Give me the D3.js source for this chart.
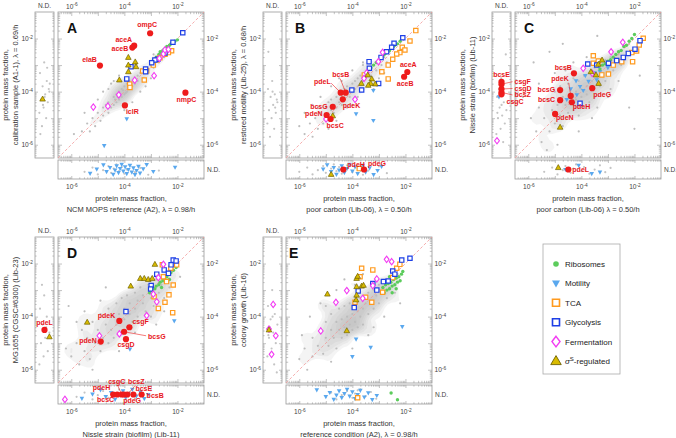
<!DOCTYPE html>
<html><head><meta charset="utf-8">
<script src="https://cdn.jsdelivr.net/npm/d3@7"></script>
<style>
body{margin:0;background:#fff}
text{font-family:"Liberation Sans",Arial,Helvetica,sans-serif}
</style></head>
<body><svg id="c" width="676" height="438"></svg>
<script>
// ===== DATA (log10 protein mass fraction; null = N.D.) =====
const tickLabelExps = [-6, -4, -2];
const legendLabels = ['Ribosomes','Motility','TCA','Glycolysis','Fermentation','σS-regulated'];

// ---- Panel A ----
const A_grey = [-5.6,-5.5,-5.4,-5.2,-5.3,-5.5,-5.2,-5.0,-5.1,-5.3,-5.0,-4.8,-4.9,-5.1,-4.8,-4.6,-4.8,-4.9,-4.7,-4.5,-4.6,-4.8,-4.6,-4.4,-4.5,-4.6,-4.4,-4.2,-4.4,-4.5,-4.3,-4.4,-4.3,-4.1,-4.2,-4.3,-4.2,-4.0,-4.1,-4.2,-4.1,-3.9,-4.0,-4.1,-4.0,-3.8,-3.9,-4.0,-3.9,-3.7,-3.8,-3.9,-3.8,-3.6,-3.7,-3.8,-3.6,-3.5,-3.6,-3.7,-3.5,-3.4,-3.5,-3.6,-3.4,-3.3,-3.3,-3.5,-3.3,-3.2,-3.2,-3.1,-3.1,-3.3,-3.0,-2.9,-2.9,-3.1,-2.8,-2.8,-2.7,-2.9,-2.6,-2.6,-2.5,-2.7,-2.4,-2.4,-2.3,-2.5,-4.8,-4.0,-4.5,-3.7,-4.2,-3.4,-3.7,-4.4,-3.4,-4.0,-5.0,-4.3,-4.0,-4.7,-3.2,-3.8,-4.6,-3.9,-3.6,-3.0,-5.5,-4.8,-3.0,-3.5,-4.4,-3.6,-3.9,-4.5,-2.9,-2.6,-5.9,-5.6,-4.05,-3.95,-3.95,-4.05,-4.15,-4.1,-3.85,-3.85,-4.25,-4.2,-3.75,-3.7,-4.35,-4.3,-3.65,-3.65];
const A_greyL = [-2.9,-3.3,-3.6,-3.8,-4.0,-4.1,-4.3,-4.4,-4.6,-4.8,-5.0,-5.3,-3.9,-4.2,-5.6,-3.1,-4.5,-3.7];
const A_greyB = [-5.5,-5.2,-5.0,-4.8,-4.6,-4.5,-4.4,-4.3,-4.2,-4.1,-4.0,-3.9,-3.8,-3.6,-3.4,-3.1,-2.7];
const A_ribo = [[-2.9,-2.8],[-2.8,-2.7],[-2.7,-2.6],[-2.65,-2.5],[-2.6,-2.55],[-2.55,-2.45],[-2.5,-2.4],[-2.45,-2.45],[-2.4,-2.3],[-2.35,-2.35],[-2.3,-2.25],[-2.25,-2.2],[-2.2,-2.15],[-2.1,-2.1],[-2.0,-2.05]];
const A_motility = [[-3.91,-5.03],[-4.76,-6.04],[-5.29,null],[-5.04,null],[-4.79,null],[-4.67,null],[-4.54,null],[-4.42,null],[-4.35,null],[-4.29,null],[-4.22,null],[-4.16,null],[-4.10,null],[-4.04,null],[-3.97,null],[-3.91,null],[-3.85,null],[-3.79,null],[-3.72,null],[-3.66,null],[-3.60,null],[-3.54,null],[-3.47,null],[-3.41,null],[-3.29,null],[-3.16,null],[-2.91,null],[-2.09,null]];
const A_tca = [[-2.22,-2.46],[-2.34,-2.53],[-2.47,-2.59],[-2.66,-2.72],[-2.78,-2.81],[-2.91,-3.00],[-3.16,-3.21],[-3.25,-3.56],[-3.80,-3.71],[-3.79,-3.84],[-3.31,-3.22]];
const A_glyc = [[-1.80,-1.78],[-2.17,-2.14],[-2.47,-2.54],[-2.74,-2.78],[-2.85,-2.81],[-2.97,-2.91],[-3.20,-3.15],[-3.20,-3.25],[-3.75,-3.06],[-3.91,-3.52]];
const A_ferm = [[-5.17,-4.58],[-4.62,-4.55],[-4.21,-4.12],[-3.61,-3.57],[-2.88,-3.40],[-2.68,-2.75],[-2.53,-2.58],[-2.47,-2.43],[-2.34,-2.41]];
const A_sigma = [[-3.85,-2.71],[-3.85,-3.00],[-3.59,-2.88],[-3.85,-3.25],[-4.19,-3.56],[-3.56,-3.06],[null,-4.28]];
const A_genes = [['ompC',-3.03,-1.80],['aceA',-3.63,-2.27],['aceB',-3.70,-2.34],['elaB',-4.92,-3.02],['iclR',-3.98,-4.52],['nmpC',-1.70,-4.04]];

// ---- Panel B ----
const B_grey = [-5.8,-5.6,-5.6,-5.2,-5.5,-5.7,-5.4,-5.0,-5.3,-5.4,-5.2,-4.8,-5.1,-5.2,-5.0,-4.6,-5.0,-5.0,-4.9,-4.4,-4.9,-4.9,-4.8,-4.7,-4.8,-4.3,-4.7,-4.8,-4.7,-4.5,-4.6,-4.2,-4.6,-4.6,-4.5,-4.4,-4.5,-4.0,-4.4,-4.5,-4.4,-4.2,-4.3,-3.9,-4.3,-4.3,-4.2,-4.1,-4.2,-3.8,-4.1,-4.2,-4.1,-3.9,-4.0,-3.7,-4.0,-4.0,-3.9,-3.9,-3.9,-3.6,-3.8,-3.8,-3.8,-3.5,-3.7,-3.7,-3.7,-3.4,-3.6,-3.6,-3.5,-3.3,-3.5,-3.5,-3.4,-3.2,-3.3,-3.4,-3.3,-3.1,-3.2,-3.0,-3.1,-3.2,-3.0,-2.8,-2.9,-3.0,-2.8,-2.7,-2.7,-2.9,-2.6,-2.5,-5.5,-4.5,-5.2,-4.2,-4.8,-3.8,-4.5,-3.5,-4.0,-3.2,-3.6,-2.9,-4.2,-4.6,-3.8,-4.2,-3.4,-3.8,-3.0,-3.5,-5.8,-4.8,-4.6,-5.1,-4.0,-4.5,-2.5,-2.8,-3.2,-3.9,-6.0,-5.3,-5.3,-4.6,-4.9,-5.4,-3.6,-3.0,-4.4,-3.6,-2.8,-3.3];
const B_greyL = [-3.6,-3.9,-4.1,-4.2,-4.4,-4.5,-4.7,-4.8,-5.0,-5.2,-5.4,-5.7,-4.3,-4.0,-2.5,-4.6];
const B_greyB = [-6.0,-5.7,-5.5,-5.3,-5.1,-5.0,-4.8,-4.7,-4.6,-4.5,-4.4,-4.3,-4.2,-4.0,-3.8,-3.6,-3.4,-3.0,-2.7];
const B_ribo = [[-3.3,-3.1],[-3.2,-3.0],[-3.1,-2.9],[-3.0,-2.85],[-2.95,-2.75],[-2.9,-2.7],[-2.8,-2.6],[-2.75,-2.55],[-2.7,-2.5],[-2.6,-2.45],[-2.5,-2.35],[-2.45,-2.3],[-2.4,-2.25],[-2.3,-2.2],[-2.2,-2.1]];
const B_motility = [[-3.21,-3.96],[-3.86,-4.84],[-3.21,-5.09],[-5.1,null],[-4.95,null],[-4.8,null],[-4.7,null],[-4.6,null],[-4.5,null],[-4.4,null],[-4.3,null],[-4.2,null],[-4.1,null],[-4.0,null],[-3.9,null],[-3.8,null],[-3.7,null],[-3.6,null],[-3.5,null],[-3.35,null],[-3.2,null],[-3.05,null],[-2.9,null]];
const B_tca = [[-1.61,-1.70],[-1.83,-2.09],[-2.12,-2.33],[-2.21,-2.53],[-2.33,-2.58],[-2.48,-2.78],[-2.65,-3.00],[-2.89,-3.25],[-2.65,-3.52],[-3.55,-3.37],[-2.02,-2.43],[-3.74,null]];
const B_glyc = [[-2.10,-1.97],[-2.43,-2.18],[-2.52,-2.33],[-2.71,-2.50],[-2.92,-2.71],[-3.37,-2.87],[-3.36,-3.12],[-3.01,-3.69],[-3.65,-3.94],[-4.02,-3.94]];
const B_ferm = [[-2.86,-2.52],[-3.02,-2.87],[-3.46,-3.29],[-3.56,-3.50],[-3.90,-4.29],[-4.99,-5.03]];
const B_sigma = [[-4.74,-4.91],[-3.42,-3.37],[-3.27,-3.52],[-3.14,-3.71],[-3.31,-3.69],[-3.40,-3.76],[-3.66,-3.69],[-4.80,null]];
const B_genes = [['pdeL',-4.44,-4.04],['bcsB',-4.25,-4.04],['pdeK',-4.36,-4.29],['bcsG',-4.74,-4.57],['pdeN',-4.97,-4.88],['bcsC',-4.82,-5.03],['aceA',-1.93,-3.26],['aceB',-2.05,-3.44],['pdeH',-4.34,null],['pdeG',-3.56,null]];

// ---- Panel C ----
const C_grey = [-5.9,-5.0,-5.7,-5.5,-5.6,-4.6,-5.5,-5.9,-5.4,-5.0,-5.3,-4.3,-5.2,-5.5,-5.1,-4.7,-5.0,-4.0,-5.0,-5.2,-4.9,-4.5,-4.8,-3.8,-4.8,-4.9,-4.7,-4.2,-4.7,-5.3,-4.6,-4.5,-4.5,-3.7,-4.5,-4.8,-4.4,-4.1,-4.4,-4.4,-4.3,-3.5,-4.3,-4.7,-4.2,-4.0,-4.2,-4.3,-4.1,-3.6,-4.1,-4.9,-4.0,-3.9,-4.0,-4.2,-3.9,-3.4,-3.9,-4.6,-3.8,-3.8,-3.8,-4.1,-3.7,-3.3,-3.7,-4.4,-3.6,-3.6,-3.6,-3.9,-3.5,-3.1,-3.5,-4.2,-3.4,-3.5,-3.3,-3.0,-3.3,-3.8,-3.2,-3.3,-3.1,-2.8,-3.1,-3.6,-3.0,-3.1,-2.9,-2.7,-2.8,-3.2,-2.7,-2.9,-2.6,-2.6,-2.5,-3.0,-2.3,-2.5,-2.2,-2.2,-5.6,-3.7,-5.0,-3.3,-4.3,-2.9,-3.6,-5.0,-3.0,-4.2,-2.6,-3.6,-4.9,-6.0,-2.4,-2.8,-3.8,-2.7,-4.6,-3.2,-5.3,-6.2,-2.9,-3.9,-3.4,-4.6,-4.1,-5.5,-5.8,-2.9,-5.2,-2.5,-4.7,-2.2,-2.2,-4.6,-1.8,-3.4,-6.2,-4.2,-2.0,-5.4,-3.4,-1.9];
const C_greyL = [-3.5,-4.2,-4.4,-4.6,-4.7,-4.9,-5.0,-5.2,-5.4,-5.6,-5.9,-3.9,-2.6,-4.5,-4.8];
const C_greyB = [-5.4,-5.1,-4.9,-4.7,-4.6,-4.4,-4.3,-4.2,-4.0,-3.9,-3.7,-3.5,-3.3,-3.1,-2.9];
const C_ribo = [[-3.3,-3.15],[-3.2,-3.0],[-3.1,-2.95],[-3.0,-2.85],[-2.9,-2.8],[-2.8,-2.7],[-2.7,-2.6],[-2.6,-2.5],[-2.5,-2.45],[-2.4,-2.3],[-2.3,-2.25],[-2.2,-2.1],[-2.1,-2.0],[-2.0,-1.85]];
const C_motility = [[-3.42,-3.56],[-3.73,-3.62],[-4.05,-3.81],[-4.17,-4.12],[-3.93,-3.96],[-4.30,-4.44],[-3.30,-3.25],[-3.50,-3.30],[-4.55,-4.30],[-3.00,-3.10],[-3.85,-3.40],[-4.40,-3.90],[-3.60,-3.90],[-4.20,-3.60],[null,-4.20],[-3.61,null],[-4.60,null],[-4.10,null],[-3.30,null]];
const C_tca = [[-1.67,-1.99],[-1.82,-2.24],[-1.92,-2.47],[-2.10,-2.53],[-2.07,-2.87],[-2.48,-2.87],[-2.80,-3.00],[-2.98,-3.34],[-3.23,-3.37],[-3.55,-2.65],[-3.55,-2.93],[-3.36,-2.85]];
const C_glyc = [[-1.79,-2.08],[-1.98,-2.40],[-2.23,-2.56],[-2.42,-2.71],[-2.67,-2.83],[-2.98,-2.93],[-3.42,-3.00],[-3.76,-2.96],[-4.05,-4.44]];
const C_ferm = [[-2.44,-2.14],[-2.88,-2.50],[-3.93,-3.12],[-3.59,-3.31],[null,-5.85]];
const C_sigma = [[-4.80,-5.34],[-3.64,-3.25],[-3.45,-3.37],[-3.35,-3.69],[-3.22,-2.81],[-3.36,-2.97],[-4.87,null]];
const C_genes = [['bcsB',-4.28,-3.31],['pdeK',-4.40,-4.16],['bcsG',-4.80,-3.94],['bcsC',-4.80,-4.32],['pdeH',-4.36,-4.40],['pdeN',-4.99,-4.84],['pdeG',-3.59,-3.87],['pdeL',-4.49,null],['bcsE',null,-3.63],['csgF',null,-3.72],['csgD',null,-3.90],['bcsZ',null,-4.03],['csgC',null,-4.10]];

// ---- Panel D ----
const D_grey = [-6.0,-5.5,-5.8,-5.0,-5.7,-5.8,-5.6,-4.5,-5.5,-5.3,-5.4,-4.8,-5.3,-5.6,-5.2,-4.2,-5.1,-5.0,-5.0,-4.5,-4.9,-5.3,-4.9,-3.9,-4.8,-4.8,-4.7,-4.3,-4.6,-5.0,-4.6,-3.7,-4.5,-4.5,-4.4,-4.0,-4.4,-4.8,-4.3,-3.5,-4.3,-4.3,-4.2,-3.9,-4.1,-4.6,-4.1,-3.3,-4.0,-4.1,-4.0,-3.7,-3.9,-4.4,-3.9,-3.2,-3.8,-3.9,-3.8,-3.5,-3.7,-4.2,-3.6,-3.1,-3.6,-3.7,-3.5,-3.4,-3.5,-4.0,-3.4,-2.9,-3.3,-3.5,-3.3,-3.2,-3.2,-3.8,-3.1,-2.8,-3.0,-3.3,-3.0,-3.0,-2.9,-3.6,-2.8,-2.6,-2.7,-3.1,-2.6,-2.8,-2.5,-3.3,-2.4,-2.5,-2.3,-2.9,-2.2,-2.3,-5.5,-3.8,-5.8,-4.2,-4.9,-3.4,-4.2,-5.3,-3.6,-4.6,-3.0,-4.0,-2.5,-3.8,-6.2,-5.2,-5.2,-6.0,-3.4,-2.5,-4.7,-2.9,-2.8,-4.3,-6.1,-3.6,-1.9,-2.5];
const D_greyL = [-3.2,-3.7,-4.0,-4.3,-4.6,-4.8,-5.0,-5.3,-5.5,-5.8,-4.4,-2.8];
const D_greyB = [-5.8,-5.5,-5.2,-5.0,-4.8,-4.6,-4.4,-4.2,-4.0,-3.8,-3.6,-3.3,-3.0];
const D_ribo = [[-3.05,-3.1],[-2.95,-3.0],[-2.85,-2.95],[-2.8,-2.85],[-2.7,-2.8],[-2.65,-2.7],[-2.55,-2.65],[-2.5,-2.55],[-2.4,-2.5],[-2.35,-2.4],[-2.25,-2.35],[-2.15,-2.25],[-2.05,-2.15],[-2.6,-2.9],[-2.3,-2.6]];
const D_motility = [[-2.12,-4.16],[-3.79,-5.23],[-5.6,null],[-5.2,null],[-4.9,null],[-4.7,null],[-4.5,null],[-4.35,null],[-4.2,null],[-4.05,null],[-3.95,null],[-3.85,null],[-3.7,null],[-3.55,null],[-3.4,null],[-3.25,null],[-3.1,null]];
const D_tca = [[-2.57,-2.05],[-2.25,-2.18],[-2.03,-2.05],[-2.53,-2.50],[-2.41,-2.68],[-2.16,-2.81],[-2.88,-3.25],[-2.32,-3.18],[-2.47,-3.46],[-2.72,-3.69],[-2.18,-3.85]];
const D_glyc = [[-2.16,-1.87],[-2.24,-2.05],[-2.50,-2.24],[-2.78,-2.40],[-2.34,-2.37],[-2.99,-2.83],[-3.01,-2.96],[-3.94,-3.81],[-2.05,-1.90]];
const D_ferm = [[-2.53,-2.03],[-2.72,-2.53],[-2.91,-3.15],[-2.78,-3.44],[-3.16,-3.96],[-4.19,-4.65],[-4.94,-4.72],[-6.24,null]];
const D_sigma = [[-2.85,-2.03],[-3.76,-2.85],[-3.40,-2.56],[-3.25,-2.56],[-3.10,-2.60],[-2.95,-2.56],[-5.40,-4.21],[null,-4.76]];
const D_genes = [['pdeK',-4.19,-4.16],['csgF',-3.81,-4.40],['bcsG',-4.01,-4.57],['csgD',-3.94,-4.85],['pdeN',-4.89,-4.94],['pdeL',null,-4.50],['pdeH',-4.42,null],['bcsC',-4.27,null],['csgC',-4.10,null],['pdeG',-4.01,null],['bcsZ',-3.89,null],['bcsE',-3.66,null],['bcsB',-3.35,null]];

// ---- Panel E ----
const E_grey = [-6.0,-5.6,-5.8,-5.2,-5.7,-6.0,-5.5,-4.8,-5.5,-5.5,-5.3,-5.1,-5.2,-4.5,-5.1,-5.4,-5.0,-4.8,-5.0,-4.2,-4.9,-5.1,-4.8,-4.5,-4.8,-3.9,-4.7,-4.8,-4.6,-4.2,-4.6,-5.2,-4.5,-4.5,-4.5,-3.7,-4.4,-4.1,-4.4,-4.8,-4.3,-4.4,-4.3,-3.6,-4.2,-4.0,-4.2,-4.7,-4.1,-4.3,-4.1,-3.5,-4.0,-3.9,-4.0,-4.5,-3.9,-4.2,-3.9,-3.4,-3.8,-3.8,-3.8,-4.4,-3.7,-4.0,-3.7,-3.3,-3.6,-3.7,-3.6,-4.3,-3.5,-3.5,-3.4,-3.1,-3.4,-3.9,-3.3,-3.4,-3.2,-3.0,-3.2,-3.7,-3.1,-3.2,-3.0,-2.8,-3.0,-3.5,-2.9,-3.1,-2.8,-2.7,-2.7,-3.3,-2.6,-2.9,-2.5,-2.6,-2.4,-3.1,-2.3,-2.4,-5.6,-4.0,-5.2,-3.5,-4.6,-3.0,-3.9,-2.8,-4.8,-5.7,-4.0,-5.2,-3.2,-4.4,-2.8,-4.0,-5.9,-4.7,-4.3,-2.6,-2.2,-3.5,-3.6,-2.4,-5.0,-3.6,-3.4,-4.7];
const E_greyL = [-3.0,-3.6,-3.9,-4.1,-4.3,-4.6,-4.8,-5.0,-5.2,-5.5,-5.8,-4.4,-6.1,-4.0,-4.7];
const E_greyB = [-5.0,-4.8,-4.6,-4.4,-4.2,-4.0,-3.9,-3.7,-3.5,-3.3,-3.1,-4.3,-3.8];
const E_ribo = [[-2.85,-2.9],[-2.8,-3.1],[-2.75,-2.8],[-2.7,-3.0],[-2.65,-2.75],[-2.6,-2.95],[-2.55,-2.7],[-2.5,-2.85],[-2.45,-2.6],[-2.4,-2.8],[-2.35,-2.55],[-2.3,-2.7],[-2.25,-2.5],[-2.2,-2.65],[-2.15,-2.4],[-2.5,-3.1],[-2.35,-2.95],[-2.6,-2.5],[-2.1,-2.3],[-2.54,null],[-2.3,null]];
const E_motility = [[-2.12,-4.38],[-3.86,-4.85],[-3.31,-5.16],[-4.00,-5.51],[-5.34,null],[-5.0,null],[-4.85,null],[-4.7,null],[-4.6,null],[-4.5,null],[-4.4,null],[-4.3,null],[-4.2,null],[-4.1,null],[-4.0,null],[-3.9,null],[-3.8,null],[-3.7,null],[-3.55,null],[-3.4,null],[-3.25,null],[-3.08,null]];
const E_tca = [[-3.65,-2.18],[-3.23,-2.24],[-3.71,-2.50],[-2.33,-2.18],[-2.21,-2.03],[-2.48,-2.53],[-3.50,-3.27],[-3.27,-3.46],[-2.86,-3.08],[-3.90,-3.46],[-3.80,null]];
const E_glyc = [[-1.83,-1.80],[-2.14,-1.87],[-2.48,-2.28],[-2.40,-2.40],[-2.65,-2.66],[-2.83,-2.68],[-3.08,-3.00],[-3.23,-2.75],[-3.78,-3.03],[-3.93,-3.66]];
const E_ferm = [[-2.71,-1.84],[-2.52,-1.93],[-3.08,-2.58],[-3.23,-2.83],[-4.21,-3.02],[-4.62,-3.46],[-3.61,-3.31],[-5.19,-4.54],[null,-3.54],[null,-4.47],[null,-4.72],[null,-5.42]];
const E_sigma = [[-4.94,-3.15],[-3.84,-2.56],[-3.80,-2.48],[-3.84,-2.87],[-3.65,-2.85],[-3.58,-2.82],[-3.84,-3.19],[-3.86,-3.37],[-4.21,-4.53],[null,-4.50]];
const E_genes = [];

// ---- Axis titles ----
const yTitles = ['calibration sample (A1-1), λ = 0.69/h','restored motility (Lib-25), λ = 0.68/h','Nissle strain (biofilm) (Lib-11)','MG1655 (CGSC#6300) (Lib-23)','colony growth (Lib-16)'];
const xTitles = ['NCM MOPS reference (A2), λ = 0.98/h','poor carbon (Lib-06), λ = 0.50/h','poor carbon (Lib-06) λ = 0.50/h','Nissle strain (biofilm) (Lib-11)','reference condition (A2), λ = 0.98/h'];
const panelLetters = ['A','B','C','D','E'];

// ===== LAYOUT =====
const offsets = [[0,0],[228,0],[457,0],[0,225],[228,225]];
const letterX = [67,67,67,67,61];
// label layout: [dx, dy, anchor, leaderEndDx, leaderEndDy]
const labelLayout = {
 'A:ompC':[-3,-6,'middle'],'A:aceA':[-2,-4,'end'],'A:aceB':[-4,3,'end'],'A:elaB':[-3,-4,'end'],'A:iclR':[1,9,'start'],'A:nmpC':[1,9,'middle'],
 'B:pdeL':[-10,-9,'end',-9.5,-9.5],'B:bcsB':[-5,-16,'middle',-5.5,-14],'B:pdeK':[0,9,'start'],'B:bcsG':[-5,2,'end'],'B:pdeN':[-4,1,'end'],'B:bcsC':[-4,9,'start'],
 'B:aceA':[1,-5,'middle'],'B:aceB':[1,9,'middle'],'B:pdeH':[4,-3,'start'],'B:pdeG':[4,-4,'start'],
 'C:bcsB':[-2,-3,'end'],'C:pdeK':[-2,-15,'end',-2,-13],'C:bcsG':[-5,2,'end'],'C:bcsC':[-5,2,'end'],'C:pdeH':[1,7,'start'],'C:pdeN':[1,6,'start'],
 'C:pdeG':[1,9,'start'],'C:pdeL':[4,2,'start'],'C:bcsE':[0,-5,'middle'],'C:csgF':[13,-0.5,'start',11,-2.5],'C:csgD':[13,1.8,'start',11,-0.5],
 'C:bcsZ':[13,4.8,'start',11,2.5],'C:csgC':[5,9.5,'start'],
 'D:pdeK':[-4,-2.5,'end'],'D:csgF':[3,-3,'start'],'D:bcsG':[24,7,'start',22,4],'D:csgD':[0,8,'middle'],'D:pdeN':[-4,1.5,'end'],'D:pdeL':[0,-5,'middle'],
 'D:pdeH':[-3,-4.5,'end'],'D:bcsC':[-3,7,'end'],'D:csgC':[-5,-11,'middle',-4,-9],'D:bcsZ':[9,-11,'middle',8,-9],'D:pdeG':[8,8.5,'middle'],
 'D:bcsE':[2,-3.2,'start'],'D:bcsB':[5,3,'start']
};
const G = {x0:58, x1:204, y0:12, y1:158, lx0:35, lx1:54, by0:160, by1:179};
const DOM = [Math.pow(10,-6.5), Math.pow(10,-1)];

const svg = d3.select('#c');
const defs = svg.append('defs');

const shapes = {
  square: s => `M${-s/2},${-s/2}h${s}v${s}h${-s}Z`,
  diamond: (w,h) => `M0,${-h/2}L${w/2},0L0,${h/2}L${-w/2},0Z`,
  triUp: (w,h) => `M0,${-h*0.6}L${w/2},${h*0.4}L${-w/2},${h*0.4}Z`,
  triDown: (w,h) => `M0,${h*0.6}L${w/2},${-h*0.4}L${-w/2},${-h*0.4}Z`
};
const STY = {
  ribo:{d:null, r:1.7, fill:'#5ccc5c', stroke:'none', sw:0},
  motility:{d:shapes.triDown(4.6,4.2), fill:'#5aa8ee', stroke:'none', sw:0},
  tca:{d:shapes.square(4.3), fill:'#fff', stroke:'#ff9a1e', sw:1.2},
  glyc:{d:shapes.square(4.3), fill:'#fff', stroke:'#1d3fe6', sw:1.2},
  ferm:{d:shapes.diamond(4.8,6.4), fill:'#fff', stroke:'#f23cf2', sw:1.1},
  sigma:{d:shapes.triUp(5.6,5.0), fill:'#d9bb00', stroke:'#6f6200', sw:0.7}
};
const LEG = {
  ribo:{d:null, r:2.8}, motility:{d:shapes.triDown(8,7)}, tca:{d:shapes.square(7)}, glyc:{d:shapes.square(7)},
  ferm:{d:shapes.diamond(8,10.5)}, sigma:{d:shapes.triUp(10.5,9)}
};

const jit = i => (((i+1)*0.6180339887) % 1) * 2 - 1;
const pairs = arr => d3.range(0, arr.length, 2).map(i => [arr[i], arr[i+1]]);

const minorT = [];
for (let e=-7;e<=-2;e++) for (let k=2;k<=9;k++){const v=k*Math.pow(10,e); if(v>=DOM[0]&&v<=DOM[1]) minorT.push(v);}
const majorT = d3.range(-6,-1).map(e=>Math.pow(10,e));

const panelData = [
 {grey:A_grey,gL:A_greyL,gB:A_greyB,ribo:A_ribo,motility:A_motility,tca:A_tca,glyc:A_glyc,ferm:A_ferm,sigma:A_sigma,genes:A_genes},
 {grey:B_grey,gL:B_greyL,gB:B_greyB,ribo:B_ribo,motility:B_motility,tca:B_tca,glyc:B_glyc,ferm:B_ferm,sigma:B_sigma,genes:B_genes},
 {grey:C_grey,gL:C_greyL,gB:C_greyB,ribo:C_ribo,motility:C_motility,tca:C_tca,glyc:C_glyc,ferm:C_ferm,sigma:C_sigma,genes:C_genes},
 {grey:D_grey,gL:D_greyL,gB:D_greyB,ribo:D_ribo,motility:D_motility,tca:D_tca,glyc:D_glyc,ferm:D_ferm,sigma:D_sigma,genes:D_genes},
 {grey:E_grey,gL:E_greyL,gB:E_greyB,ribo:E_ribo,motility:E_motility,tca:E_tca,glyc:E_glyc,ferm:E_ferm,sigma:E_sigma,genes:E_genes}
];

function addAxis(g, make, tx, ty, len, labelled, pad){
  const a1 = g.append('g').attr('transform',`translate(${tx},${ty})`)
    .call(make().tickValues(minorT).tickSizeInner(-len*0.55).tickSizeOuter(0).tickFormat(()=>''));
  const a2 = g.append('g').attr('transform',`translate(${tx},${ty})`)
    .call(make().tickValues(majorT).tickSizeInner(-len).tickSizeOuter(0).tickPadding(pad).tickFormat(()=>''));
  [a1,a2].forEach(a=>{ a.select('.domain').remove(); a.selectAll('line').attr('stroke','#9a9a9a').attr('stroke-width',0.6); });
  a1.selectAll('text').remove();
  a2.selectAll('.tick text').each(function(d){
    const e = Math.round(Math.log10(d));
    const t = d3.select(this);
    t.text(null);
    if(!labelled || !tickLabelExps.includes(e)) return;
    t.attr('font-size','6.6px').attr('fill','#444').attr('font-family','"Liberation Sans",Arial,sans-serif');
    t.append('tspan').text('10');
    t.append('tspan').attr('dy','-0.5em').attr('font-size','4.8px').text(e);
  });
}

function drawPanel(k){
  const p = panelData[k], [ox,oy] = offsets[k], L = panelLetters[k];
  const g = svg.append('g').attr('transform',`translate(${ox},${oy})`);
  const x = d3.scaleLog().domain(DOM).range([G.x0,G.x1]);
  const y = d3.scaleLog().domain(DOM).range([G.y1,G.y0]);
  const cxL = (G.lx0+G.lx1)/2, cyB = (G.by0+G.by1)/2;
  const pos = (d,i,nojit) => [
    d[0]==null ? cxL + (nojit?0:jit(i)*5.5) : x(Math.pow(10,d[0])),
    d[1]==null ? cyB + (nojit?0:jit(i)*5.5) : y(Math.pow(10,d[1]))
  ];
  const cid = 'clip'+L;
  defs.append('clipPath').attr('id',cid).append('rect').attr('x',G.x0).attr('y',G.y0).attr('width',G.x1-G.x0).attr('height',G.y1-G.y0);

  const frame = (x0,y0,w,h)=>g.append('rect').attr('x',x0).attr('y',y0).attr('width',w).attr('height',h)
      .attr('fill','#fff').attr('stroke','#9a9a9a').attr('stroke-width',0.8);
  frame(G.x0,G.y0,G.x1-G.x0,G.y1-G.y0);
  frame(G.lx0,G.y0,G.lx1-G.lx0,G.y1-G.y0);
  frame(G.x0,G.by0,G.x1-G.x0,G.by1-G.by0);

  addAxis(g, ()=>d3.axisTop(x), 0, G.y0, 4, true, 3.5);
  addAxis(g, ()=>d3.axisBottom(x), 0, G.y1, 4, false, 2);
  addAxis(g, ()=>d3.axisTop(x), 0, G.by0, 3, false, 2);
  addAxis(g, ()=>d3.axisBottom(x), 0, G.by1, 3, true, 5.5);
  addAxis(g, ()=>d3.axisLeft(y), G.x0, 0, 4, false, 2);
  addAxis(g, ()=>d3.axisRight(y), G.x1, 0, 4, true, 2.5);
  addAxis(g, ()=>d3.axisLeft(y), G.lx0, 0, 3, true, 2);
  addAxis(g, ()=>d3.axisRight(y), G.lx1, 0, 3, false, 2);

  // grey background: density + points
  const gp = pairs(p.grey);
  const dens = d3.contourDensity().x(d=>x(Math.pow(10,d[0]))).y(d=>y(Math.pow(10,d[1])))
      .size([230,190]).bandwidth(4).thresholds(10)(gp);
  g.append('g').attr('clip-path',`url(#${cid})`).selectAll('path').data(dens.slice(2)).join('path')
      .attr('d',d3.geoPath()).attr('fill','#b0b0b0').attr('fill-opacity',0.14);
  g.append('g').attr('clip-path',`url(#${cid})`).selectAll('circle').data(gp).join('circle')
      .attr('cx',d=>x(Math.pow(10,d[0]))).attr('cy',d=>y(Math.pow(10,d[1]))).attr('r',1.1).attr('fill','#bdbdbd');
  g.append('g').selectAll('circle').data(p.gL).join('circle')
      .attr('cx',(d,i)=>cxL+jit(i+3)*5.5).attr('cy',d=>y(Math.pow(10,d))).attr('r',1.1).attr('fill','#c4c4c4');
  g.append('g').selectAll('circle').data(p.gB).join('circle')
      .attr('cx',d=>x(Math.pow(10,d))).attr('cy',(d,i)=>cyB+jit(i+5)*5.5).attr('r',1.1).attr('fill','#c4c4c4');

  g.append('line').attr('x1',x(DOM[0])).attr('y1',y(DOM[0])).attr('x2',x(DOM[1])).attr('y2',y(DOM[1]))
    .attr('stroke','#f29a9a').attr('stroke-width',0.8).attr('stroke-dasharray','3,2');

  ['motility','ribo','tca','glyc','ferm','sigma'].forEach(key=>{
    const s = STY[key];
    const sel = g.append('g').selectAll(s.d?'path':'circle').data(p[key]).join(s.d?'path':'circle');
    if(s.d){
      sel.attr('d',s.d).attr('transform',(d,i)=>{const q=pos(d,i);return `translate(${q[0]},${q[1]})`;});
    } else {
      sel.attr('r',s.r).attr('cx',(d,i)=>pos(d,i)[0]).attr('cy',(d,i)=>pos(d,i)[1]);
    }
    sel.attr('fill',s.fill).attr('stroke',s.stroke).attr('stroke-width',s.sw);
  });

  const gg = g.append('g');
  p.genes.forEach(([name,lx,ly])=>{
    const q = pos([lx,ly],0,true);
    const lay = labelLayout[L+':'+name] || [4,-4,'start'];
    if(lay.length>3){
      gg.append('line').attr('x1',q[0]).attr('y1',q[1]).attr('x2',q[0]+lay[3]).attr('y2',q[1]+lay[4])
        .attr('stroke','#ee2020').attr('stroke-width',0.6);
    }
  });
  p.genes.forEach(([name,lx,ly])=>{
    const q = pos([lx,ly],0,true);
    gg.append('circle').attr('cx',q[0]).attr('cy',q[1]).attr('r',3.1).attr('fill','#ee1c1c');
  });
  p.genes.forEach(([name,lx,ly])=>{
    const q = pos([lx,ly],0,true);
    const lay = labelLayout[L+':'+name] || [4,-4,'start'];
    gg.append('text').attr('x',q[0]+lay[0]).attr('y',q[1]+lay[1]).attr('text-anchor',lay[2])
      .attr('font-size','7px').attr('font-weight','bold').attr('fill','#e8161c').text(name);
  });

  g.append('text').attr('x',cxL).attr('y',8).attr('text-anchor','middle').attr('font-size','6.6px').attr('fill','#444').text('N.D.');
  g.append('text').attr('x',G.x1+3).attr('y',cyB+2.4).attr('font-size','6.6px').attr('fill','#444').text('N.D.');

  g.append('text').attr('x',letterX[k]).attr('y',33).attr('font-size','14px').attr('font-weight','bold').attr('fill','#111').text(L);

  const cx = (G.x0+G.x1)/2, cy = (G.y0+G.y1)/2;
  g.append('text').attr('x',cx).attr('y',201).attr('text-anchor','middle').attr('font-size','7.5px').attr('fill','#333').text('protein mass fraction,');
  g.append('text').attr('x',cx).attr('y',212).attr('text-anchor','middle').attr('font-size','7.5px').attr('fill','#333').text(xTitles[k]);
  g.append('text').attr('transform',`translate(8,${cy}) rotate(-90)`).attr('text-anchor','middle').attr('font-size','7.5px').attr('fill','#333').text('protein mass fraction,');
  g.append('text').attr('transform',`translate(18,${cy}) rotate(-90)`).attr('text-anchor','middle').attr('font-size','7.5px').attr('fill','#333').text(yTitles[k]);
}

d3.range(5).forEach(drawPanel);

// ===== LEGEND =====
const lg = svg.append('g');
lg.append('rect').attr('x',543).attr('y',244).attr('width',77).attr('height',130).attr('fill','#fff').attr('stroke','#aaa').attr('stroke-width',0.8);
const legKeys = ['ribo','motility','tca','glyc','ferm','sigma'];
legKeys.forEach((key,i)=>{
  const yy = 264 + i*19.4, s = STY[key], m = LEG[key];
  if(m.d){
    lg.append('path').attr('d',m.d).attr('transform',`translate(556,${yy})`).attr('fill',s.fill).attr('stroke',s.stroke)
      .attr('stroke-width', key==='sigma'?0.9:(s.sw? s.sw*1.35:0));
  } else {
    lg.append('circle').attr('cx',556).attr('cy',yy).attr('r',m.r).attr('fill',s.fill);
  }
  const t = lg.append('text').attr('x',565).attr('y',yy+3).attr('font-size','8px').attr('fill','#222');
  const lab = legendLabels[i];
  if(lab.startsWith('σS')){
    t.append('tspan').attr('font-style','italic').text('σ');
    t.append('tspan').attr('dy','-3').attr('font-size','6px').text('S');
    t.append('tspan').attr('dy','3').text(lab.slice(2));
  } else t.text(lab);
});
</script>
</body></html>
